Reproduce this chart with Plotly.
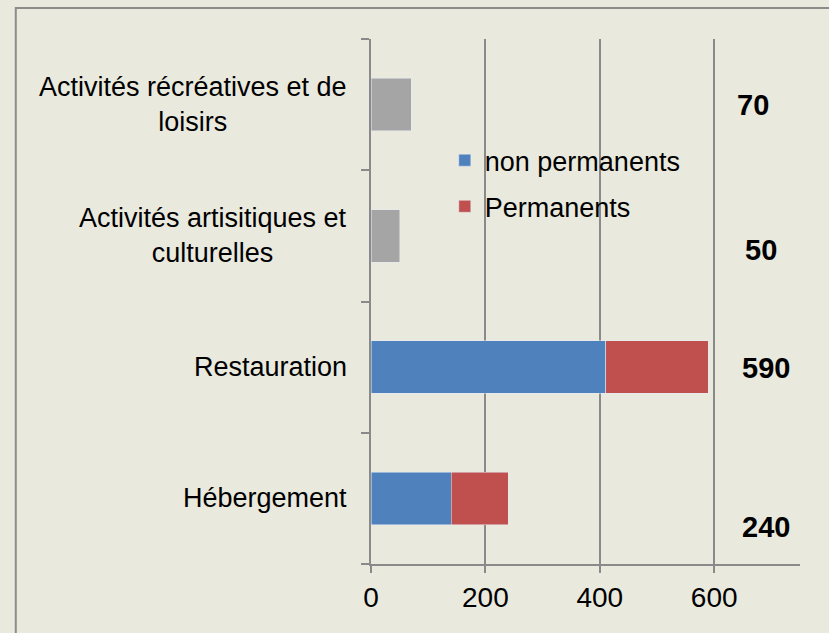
import plotly.graph_objects as go

# data
categories = ["Hébergement", "Restauration",
              "Activités artisitiques et culturelles",
              "Activités récréatives et de loisirs"]
cat_labels = ["Hébergement", "Restauration",
              "Activités artisitiques et<br>culturelles",
              "Activités récréatives et de<br>loisirs"]
non_permanents = [140, 410, None, None]
permanents = [100, 180, None, None]
autres = [None, None, 50, 70]
totaux = [240, 590, 50, 70]
x_ticks = [0, 200, 400, 600]

# where Excel left the total labels (data coords)
total_pos = [(691, -0.22), (691, 0.99), (681, 1.89), (667, 3.0)]

BG = "#E9E9DE"
GRID = "#8A8A8A"
FONT = "Liberation Sans, Arial, sans-serif"

fig = go.Figure()
fig.add_trace(go.Bar(y=categories, x=non_permanents, orientation="h",
                     name="non permanents", marker_color="#4F81BD",
                     legendgroup="a"))
fig.add_trace(go.Bar(y=categories, x=permanents, orientation="h",
                     name="Permanents", marker_color="#C0504D",
                     legendgroup="b"))
fig.add_trace(go.Bar(y=categories, x=autres, orientation="h",
                     name="autres", marker_color="#A5A5A5",
                     showlegend=False))

annotations = []
for cat, lab in zip(categories, cat_labels):
    annotations.append(dict(xref="paper", yref="y", x=0, y=cat, xshift=-22,
                            xanchor="right", yanchor="middle", align="center",
                            text=lab, showarrow=False,
                            font=dict(size=27, color="black", family=FONT)))
for tot, (px_, py_) in zip(totaux, total_pos):
    annotations.append(dict(xref="x", yref="y", x=px_, y=py_, text=f"<b>{tot}</b>",
                            showarrow=False, xanchor="center", yanchor="middle",
                            font=dict(size=29, color="black", family=FONT)))

fig.update_layout(
    width=829, height=633,
    barmode="stack", bargap=0.6,
    paper_bgcolor=BG, plot_bgcolor=BG,
    margin=dict(l=371, r=29, t=39, b=69),
    font=dict(family=FONT, size=25, color="black"),
    legend=dict(x=0.172, y=0.815, xanchor="left", yanchor="top",
                bgcolor="rgba(0,0,0,0)", traceorder="grouped",
                tracegroupgap=8, font=dict(size=27)),
    annotations=annotations,
    shapes=[dict(type="rect", xref="paper", yref="paper",
                 x0=-0.828, x1=1.3, y0=-0.3, y1=1.059,
                 line=dict(color="#8C8C8C", width=2), layer="below")],
)
fig.update_xaxes(range=[0, 750], tickvals=x_ticks, showgrid=True,
                 gridcolor=GRID, gridwidth=1.5, zeroline=False,
                 showline=True, linecolor=GRID, linewidth=2,
                 ticks="outside", ticklen=7, tickcolor=GRID, tickwidth=2,
                 tickfont=dict(size=28))
fig.update_yaxes(showticklabels=False, showgrid=False, zeroline=False,
                 showline=True, linecolor=GRID, linewidth=2,
                 ticks="outside", ticklen=8, tickcolor=GRID, tickwidth=2,
                 tickson="boundaries")

# page body has an 8px default margin; drop it so the figure sits at 0,0
fig.write_html("out.html", config={"displayModeBar": False},
               post_script="document.body.style.margin='0';document.body.style.background='%s';" % BG)
